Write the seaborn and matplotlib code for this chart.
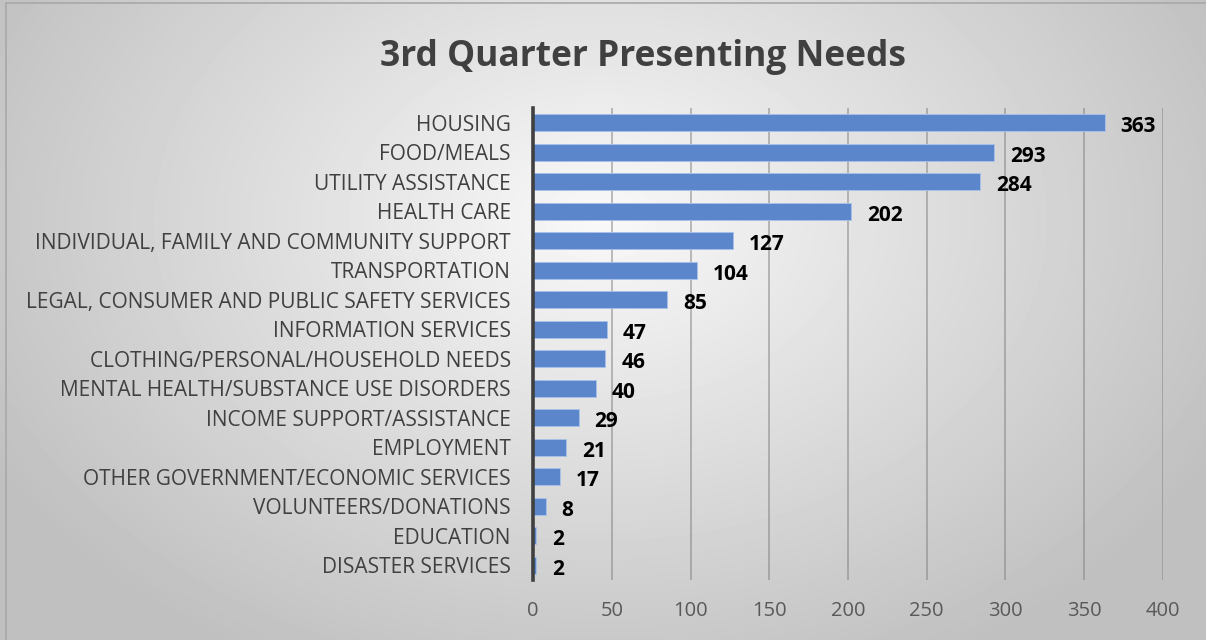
import matplotlib
matplotlib.use("Agg")
import matplotlib.pyplot as plt
import numpy as np
import pandas as pd
import seaborn as sns
from matplotlib.patches import Rectangle

categories = [
    "HOUSING",
    "FOOD/MEALS",
    "UTILITY ASSISTANCE",
    "HEALTH CARE",
    "INDIVIDUAL, FAMILY AND COMMUNITY SUPPORT",
    "TRANSPORTATION",
    "LEGAL, CONSUMER AND PUBLIC SAFETY SERVICES",
    "INFORMATION SERVICES",
    "CLOTHING/PERSONAL/HOUSEHOLD NEEDS",
    "MENTAL HEALTH/SUBSTANCE USE DISORDERS",
    "INCOME SUPPORT/ASSISTANCE",
    "EMPLOYMENT",
    "OTHER GOVERNMENT/ECONOMIC SERVICES",
    "VOLUNTEERS/DONATIONS",
    "EDUCATION",
    "DISASTER SERVICES",
]
counts = [363, 293, 284, 202, 127, 104, 85, 47, 46, 40, 29, 21, 17, 8, 2, 2]
x_ticks = [0, 50, 100, 150, 200, 250, 300, 350, 400]
title = "3rd Quarter Presenting Needs"

df = pd.DataFrame({"need": categories, "count": counts})

sns.set_theme(style="white")
plt.rcParams["font.family"] = ["Open Sans", "DejaVu Sans"]

fig = plt.figure(figsize=(12.06, 6.4), dpi=100)

# radial grey gradient behind everything
bg = fig.add_axes([0, 0, 1, 1], zorder=-10)
yy, xx = np.mgrid[0:640, 0:1206]
r = np.sqrt(((xx - 600) / 780.0) ** 2 + ((yy - 220) / 560.0) ** 2)
shade = np.clip(0.975 - 0.25 * r, 0.75, 1.0)
bg.imshow(shade, cmap="gray", vmin=0, vmax=1, aspect="auto",
          extent=[0, 1, 0, 1], origin="upper")
bg.add_patch(Rectangle((6 / 1206, -0.01), 1.1, (640 - 3) / 640 + 0.01,
                       fill=False, edgecolor="#a8a8a8", lw=1.2,
                       transform=bg.transAxes))
bg.set_xlim(0, 1)
bg.set_ylim(0, 1)
bg.axis("off")

ax = fig.add_axes([533 / 1206, 60 / 640, (1163 - 533) / 1206, (580 - 108) / 640])
ax.patch.set_alpha(0)

sns.barplot(data=df, x="count", y="need", orient="h", color="#5b86cc",
            saturation=1, width=0.58, edgecolor="#a9c0e6", linewidth=0.7,
            ax=ax, zorder=3)

ax.set_xlim(0, 400)
ax.set_ylim(15.5, -0.5)
ax.set_xticks(x_ticks)
ax.set_xlabel("")
ax.set_ylabel("")
ax.xaxis.grid(True, color="#808080", alpha=0.55, lw=1.3, zorder=0)
ax.yaxis.grid(False)
for s in ["top", "right", "bottom"]:
    ax.spines[s].set_visible(False)
ax.spines["left"].set_color("#404040")
ax.spines["left"].set_linewidth(2.6)
ax.spines["left"].set_zorder(5)
ax.tick_params(axis="y", length=0, pad=16, labelsize=15, labelcolor="#404040")
ax.tick_params(axis="x", length=0, pad=15, labelsize=14.5, labelcolor="#595959")

for i, v in enumerate(counts):
    ax.annotate(str(v), (v, i), xytext=(11.5, -3), textcoords="offset points",
                ha="left", va="center", fontsize=15, fontweight="bold",
                color="black")

fig.text(643 / 1206, 1 - 57 / 640, title, ha="center", va="center",
         fontsize=25.5, fontweight="bold", color="#404040")

fig.savefig("out.png", dpi=100)
